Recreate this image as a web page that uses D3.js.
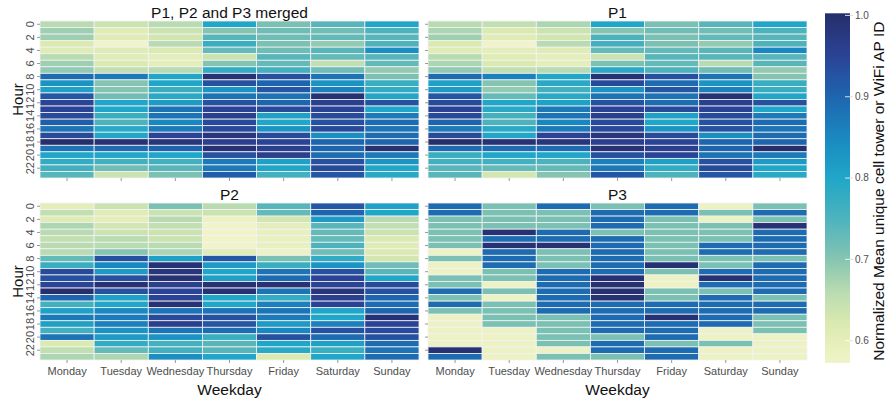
<!DOCTYPE html>
<html><head><meta charset="utf-8">
<script src="https://cdn.jsdelivr.net/npm/d3@7/dist/d3.min.js"></script>
<style>
body{margin:0;background:#fff}
text{font-family:"Liberation Sans",Arial,Helvetica,sans-serif}
</style>
</head><body>
<svg id="chart" width="891" height="403"></svg>
<script>
// ---------------- data ----------------
const days = ["Monday","Tuesday","Wednesday","Thursday","Friday","Saturday","Sunday"];
const hours = [0,1,2,3,4,5,6,7,8,9,10,11,12,13,14,15,16,17,18,19,20,21,22,23];
const hourTicks = [0,2,4,6,8,10,12,14,16,18,20,22];
const colorTicks = [0.6,0.7,0.8,0.9,1.0];
const colorTickLabels = ["0.6","0.7","0.8","0.9","1.0"];
const panelTitles = ["P1, P2 and P3 merged","P1","P2","P3"];

// values: one array per weekday, 24 hourly values each
const merged = [
  [0.66,0.68,0.68,0.62,0.61,0.66,0.68,0.69,0.89,0.83,0.81,0.92,0.95,0.95,0.94,0.91,0.88,0.94,1.00,0.88,0.80,0.78,0.76,0.74],
  [0.64,0.61,0.61,0.57,0.61,0.61,0.62,0.65,0.87,0.70,0.70,0.72,0.80,0.80,0.77,0.75,0.79,0.80,0.99,0.89,0.80,0.76,0.72,0.64],
  [0.66,0.64,0.63,0.66,0.62,0.60,0.60,0.66,0.80,0.80,0.77,0.79,0.82,0.88,0.88,0.85,0.87,0.95,0.98,0.90,0.80,0.76,0.74,0.71],
  [0.80,0.70,0.74,0.77,0.73,0.64,0.70,0.78,0.99,0.93,0.83,0.88,0.93,0.95,0.96,0.94,0.94,0.98,0.96,0.99,0.93,0.87,0.87,0.91],
  [0.71,0.72,0.72,0.71,0.72,0.74,0.73,0.76,0.93,0.90,0.92,0.88,0.90,0.94,0.81,0.80,0.83,0.94,0.95,0.96,0.96,0.81,0.80,0.76],
  [0.74,0.72,0.73,0.69,0.74,0.73,0.65,0.72,0.88,0.83,0.86,0.99,0.96,0.95,0.94,0.93,0.94,0.84,0.90,0.90,0.89,0.93,0.94,0.92],
  [0.80,0.75,0.74,0.75,0.84,0.74,0.73,0.69,0.71,0.77,0.78,0.80,0.93,0.80,0.87,0.89,0.88,0.89,0.90,0.99,0.87,0.83,0.80,0.79]
];
const p1 = [
  [0.66,0.67,0.68,0.62,0.61,0.66,0.67,0.69,0.89,0.81,0.82,0.92,0.94,0.95,0.94,0.90,0.87,0.94,1.00,0.89,0.77,0.76,0.74,0.74],
  [0.65,0.62,0.61,0.57,0.60,0.61,0.62,0.65,0.86,0.70,0.69,0.73,0.80,0.79,0.76,0.75,0.79,0.80,0.99,0.89,0.80,0.76,0.73,0.63],
  [0.67,0.64,0.63,0.66,0.61,0.60,0.60,0.66,0.80,0.79,0.76,0.79,0.81,0.87,0.88,0.85,0.87,0.95,0.98,0.89,0.80,0.75,0.73,0.70],
  [0.80,0.70,0.75,0.76,0.73,0.64,0.71,0.79,0.99,0.94,0.83,0.88,0.93,0.95,0.96,0.94,0.94,0.98,0.96,0.99,0.93,0.86,0.87,0.92],
  [0.71,0.72,0.71,0.71,0.73,0.74,0.73,0.75,0.93,0.89,0.92,0.88,0.89,0.94,0.81,0.80,0.83,0.94,0.95,0.96,0.95,0.81,0.78,0.75],
  [0.74,0.72,0.73,0.69,0.74,0.74,0.66,0.72,0.88,0.83,0.86,0.99,0.96,0.95,0.94,0.93,0.93,0.84,0.90,0.90,0.88,0.93,0.94,0.92],
  [0.80,0.75,0.74,0.75,0.85,0.74,0.74,0.69,0.70,0.77,0.77,0.80,0.93,0.80,0.87,0.89,0.88,0.89,0.90,1.00,0.87,0.82,0.80,0.79]
];
const p2 = [
  [0.60,0.65,0.61,0.67,0.66,0.65,0.66,0.66,0.73,0.77,0.94,0.93,0.95,1.00,0.90,0.76,0.81,0.87,0.81,0.76,0.88,0.62,0.65,0.67],
  [0.64,0.61,0.60,0.63,0.64,0.66,0.66,0.70,0.93,0.85,0.82,0.93,0.99,0.93,0.81,0.80,0.85,0.87,0.86,0.83,0.82,0.78,0.73,0.67],
  [0.71,0.64,0.66,0.65,0.64,0.64,0.66,0.67,0.81,0.99,0.98,0.99,0.96,0.95,0.95,0.99,0.88,0.94,0.96,0.88,0.83,0.76,0.76,0.84],
  [0.66,0.64,0.58,0.57,0.565,0.565,0.57,0.61,0.92,0.82,0.80,0.81,0.99,0.99,0.80,0.80,0.88,0.93,0.92,0.89,0.77,0.74,0.74,0.80],
  [0.74,0.73,0.63,0.60,0.59,0.59,0.59,0.58,0.71,0.77,0.88,0.89,0.99,0.88,0.78,0.86,0.88,0.87,0.82,0.85,0.93,0.80,0.79,0.62],
  [0.92,0.90,0.82,0.74,0.73,0.73,0.75,0.72,0.78,0.83,0.93,0.95,0.95,0.98,0.96,0.95,0.80,0.80,0.86,0.93,0.89,0.81,0.77,0.80],
  [0.81,0.80,0.66,0.65,0.64,0.62,0.61,0.62,0.63,0.72,0.74,0.80,0.94,0.93,0.90,0.89,0.90,0.99,0.95,0.94,0.93,0.89,0.88,0.89]
];
const p3 = [
  [0.89,0.89,0.71,0.71,0.71,0.71,0.71,0.58,0.71,0.58,0.58,0.71,0.71,0.89,0.71,0.89,0.71,0.58,0.58,0.58,0.58,0.58,0.99,0.89],
  [0.71,0.71,0.71,0.71,0.99,0.89,0.99,0.89,0.89,0.89,0.71,0.71,0.58,0.71,0.58,0.71,0.71,0.71,0.71,0.58,0.58,0.58,0.58,0.58],
  [0.89,0.71,0.71,0.71,0.89,0.89,0.99,0.71,0.71,0.71,0.89,0.89,0.89,0.89,0.89,0.89,0.89,0.71,0.71,0.71,0.71,0.71,0.58,0.71],
  [0.71,0.89,0.89,0.89,0.71,0.89,0.89,0.89,0.89,0.89,0.89,0.99,0.99,0.99,0.99,0.89,0.89,0.89,0.89,0.89,0.71,0.89,0.89,0.71],
  [0.89,0.89,0.71,0.71,0.71,0.71,0.71,0.71,0.71,0.99,0.71,0.58,0.58,0.71,0.71,0.89,0.89,0.99,0.89,0.89,0.89,0.71,0.89,0.89],
  [0.58,0.71,0.58,0.71,0.71,0.71,0.89,0.89,0.71,0.71,0.89,0.99,0.89,0.71,0.89,0.89,0.89,0.89,0.89,0.58,0.58,0.71,0.58,0.58],
  [0.71,0.89,0.71,0.99,0.89,0.89,0.89,0.89,0.71,0.89,0.89,0.89,0.89,0.89,0.71,0.89,0.89,0.71,0.71,0.71,0.58,0.58,0.58,0.58]
];

// colour ramp (value -> colour)
const colorStopValues = [0.572,0.62,0.66,0.70,0.75,0.80,0.85,0.90,0.95,1.0];
const colorStopColors = ["#f0f4c8","#dbeab0","#b9dbb1","#86c4b2","#4cb3bd","#20a6c8","#1a88c0","#1e65af","#2b4396","#262e6b"];

// ---------------- drawing ----------------
const svg = d3.select("#chart");
const color = d3.scaleLinear().domain(colorStopValues).range(colorStopColors)
  .interpolate(d3.interpolateRgb).clamp(true);

const panelW = 379, panelH = 157;
const panels = [
  {data: merged, title: panelTitles[0], x: 40,  y: 21,  xLabels: false, yLabels: true},
  {data: p1,     title: panelTitles[1], x: 428, y: 21,  xLabels: false, yLabels: false},
  {data: p2,     title: panelTitles[2], x: 40,  y: 203, xLabels: true,  yLabels: true},
  {data: p3,     title: panelTitles[3], x: 428, y: 203, xLabels: true,  yLabels: false}
];

const xScale = d3.scaleBand().domain(days).range([0, panelW]).padding(0);
const yScale = d3.scaleBand().domain(hours).range([0, panelH]).padding(0);

panels.forEach(p => {
  const g = svg.append("g").attr("transform", `translate(${p.x},${p.y})`);
  g.append("rect").attr("width", panelW).attr("height", panelH).attr("fill", "#ebebeb");
  const cells = [];
  p.data.forEach((col, di) => col.forEach((v, hi) => cells.push({day: days[di], hour: hours[hi], v})));
  g.selectAll("rect.cell").data(cells).join("rect")
    .attr("class", "cell")
    .attr("x", d => xScale(d.day))
    .attr("y", d => yScale(d.hour))
    .attr("width", xScale.bandwidth())
    .attr("height", yScale.bandwidth())
    .attr("fill", d => color(d.v))
    .attr("stroke", "#f3f3f3")
    .attr("stroke-width", 0.8);

  // x axis
  const xa = g.append("g").attr("transform", `translate(0,${panelH})`)
    .call(d3.axisBottom(xScale).tickSize(3).tickPadding(4));
  xa.select(".domain").remove();
  xa.selectAll(".tick line").attr("stroke", "#999");
  xa.selectAll(".tick text").attr("fill", "#4d4d4d").style("font-size", "11px")
    .style("display", p.xLabels ? null : "none");

  // y axis
  const ya = g.append("g")
    .call(d3.axisLeft(yScale).tickValues(hourTicks).tickSize(3));
  ya.select(".domain").remove();
  ya.selectAll(".tick line").attr("stroke", "#999");
  ya.selectAll(".tick text")
    .attr("transform", "rotate(-90)")
    .attr("x", 0).attr("y", -6).attr("dy", 0)
    .attr("text-anchor", "middle")
    .attr("fill", "#4d4d4d").style("font-size", "11px")
    .style("display", p.yLabels ? null : "none");

  // title
  svg.append("text")
    .attr("x", p.x + panelW / 2).attr("y", p.y - 3.5)
    .attr("text-anchor", "middle").attr("fill", "#111")
    .style("font-size", "15.5px").text(p.title);

  if (p.xLabels) {
    svg.append("text")
      .attr("x", p.x + panelW / 2).attr("y", 395)
      .attr("text-anchor", "middle").attr("fill", "#111")
      .style("font-size", "15.5px").text("Weekday");
  }
  if (p.yLabels) {
    svg.append("text")
      .attr("transform", `translate(23,${p.y + panelH / 2}) rotate(-90)`)
      .attr("text-anchor", "middle").attr("fill", "#111")
      .style("font-size", "15px").text("Hour");
  }
});

// ---------------- colour bar ----------------
const cbX = 825, cbW = 25, cbTop = 13.3, cbBottom = 363;
const cbScale = d3.scaleLinear().domain([0.572, 1.002]).range([cbBottom, cbTop]);
const defs = svg.append("defs");
const grad = defs.append("linearGradient").attr("id", "cbgrad")
  .attr("x1", 0).attr("y1", 1).attr("x2", 0).attr("y2", 0);
const nStops = 40;
d3.range(nStops + 1).forEach(i => {
  const t = i / nStops;
  const v = 0.572 + t * (1.002 - 0.572);
  grad.append("stop").attr("offset", t).attr("stop-color", color(v));
});
svg.append("rect").attr("x", cbX).attr("y", cbTop).attr("width", cbW)
  .attr("height", cbBottom - cbTop).attr("fill", "url(#cbgrad)");

const cbAxis = svg.append("g").attr("transform", `translate(${cbX + cbW},0)`)
  .call(d3.axisRight(cbScale).tickValues(colorTicks)
    .tickFormat((d, i) => colorTickLabels[i]).tickSize(3).tickPadding(2));
cbAxis.select(".domain").remove();
cbAxis.selectAll(".tick line").attr("stroke", "#ddd");
cbAxis.selectAll(".tick text").attr("fill", "#4d4d4d").style("font-size", "10px");
cbAxis.selectAll(".tick").append("line").attr("x1", -5).attr("x2", 0).attr("stroke", "#fff").attr("stroke-width", 0.8);

svg.append("text")
  .attr("transform", `translate(884,${(cbTop + cbBottom) / 2 + 3}) rotate(-90)`)
  .attr("text-anchor", "middle").attr("fill", "#111")
  .style("font-size", "15.5px")
  .text("Normalized Mean unique cell tower or WiFi AP ID");
</script>
</body></html>
